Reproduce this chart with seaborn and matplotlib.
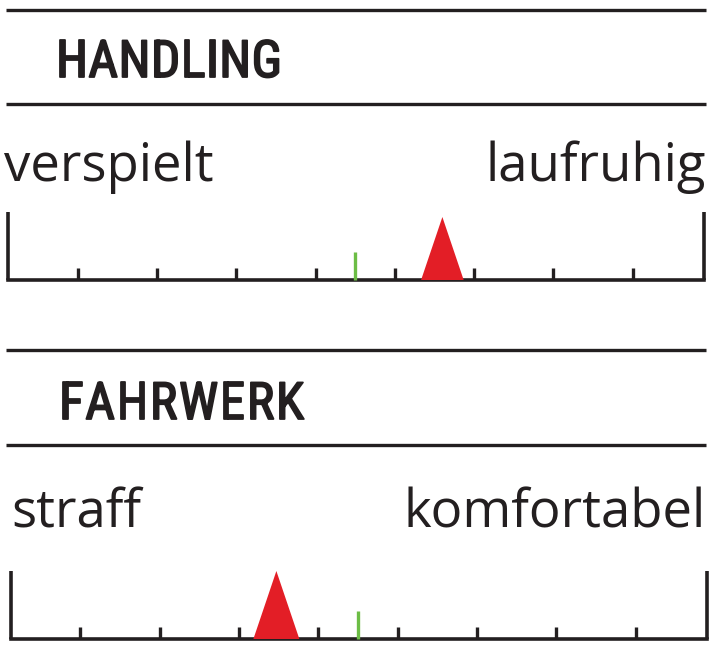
import matplotlib
matplotlib.use("Agg")
import matplotlib.pyplot as plt
from matplotlib import font_manager
import matplotlib.patheffects as pe
import seaborn as sns
import pandas as pd

# ---------------- data ----------------
categories = ["HANDLING", "FAHRWERK"]
left_labels = ["verspielt", "straff"]
right_labels = ["laufruhig", "komfortabel"]
values = [5.6, 3.47]          # red marker position (scale units)
reference = [4.5, 4.5]        # green middle mark
scale_ticks = [1, 2, 3, 4, 5, 6, 7, 8]
scale_ends = [0.12, 8.9]

# ---------------- style ----------------
sns.set_theme(style="white")
BLACK = "#231f20"
RED = "#e31e26"
GREEN = "#6cbd45"

names = {f.name for f in font_manager.fontManager.ttflist}
label_family = "Open Sans" if "Open Sans" in names else "DejaVu Sans"
head_fp = None
for cand in ["Roboto Condensed", "Liberation Sans Narrow", "Open Sans Condensed"]:
    if cand in names:
        head_fp = font_manager.FontProperties(family=cand, weight="normal")
        break
if head_fp is None:
    head_fp = font_manager.FontProperties(family="DejaVu Sans", weight="bold", stretch="condensed")

W, H = 712, 650
fig = plt.figure(figsize=(W / 100, H / 100), dpi=100)

bg = fig.add_axes([0, 0, 1, 1])
bg.set_xlim(0, W)
bg.set_ylim(H, 0)
bg.axis("off")

panel_top = [10, 350]
panel_mid = [104, 445]
label_base = [181, 527]
head_left = [56, 59]
head_right = [282, 304]
head_base = [77, 419]
left_x = [4, 11]
baseline_px = [280, 639]
x0_px = [77.6, 80.5]
tri_h = [63, 68]
unit_px = 79.3

fig.canvas.draw()
renderer = fig.canvas.get_renderer()
stroke = [pe.withStroke(linewidth=1.3, foreground=BLACK)]

for i in range(2):
    for yy in (panel_top[i], panel_mid[i]):
        bg.plot([6, 706], [yy, yy], color=BLACK, lw=2.4, solid_capstyle="butt")

    fs = 37
    chars = list(categories[i])
    texts = [bg.text(0, head_base[i], c, fontproperties=head_fp, fontsize=fs,
                     color=BLACK, va="baseline", ha="left", path_effects=stroke)
             for c in chars]
    widths = [t.get_window_extent(renderer).width for t in texts]
    total = sum(widths)
    target = head_right[i] - head_left[i]
    gap = max((target - total) / (len(chars) - 1), 0.0)
    x = head_left[i]
    for t, w in zip(texts, widths):
        t.set_x(x)
        x += w + gap

    bg.text(left_x[i], label_base[i], left_labels[i], family=label_family,
            fontsize=38, color=BLACK, va="baseline", ha="left")
    bg.text(706, label_base[i], right_labels[i], family=label_family,
            fontsize=38, color=BLACK, va="baseline", ha="right")

    top_px = baseline_px[i] - 80
    bot_px = baseline_px[i] + 8
    ax = fig.add_axes([0, 1 - bot_px / H, 1, (bot_px - top_px) / H])
    ax.set_xlim(1 - x0_px[i] / unit_px, 1 + (W - x0_px[i]) / unit_px)
    ax.set_ylim(-8, 80)
    ax.axis("off")
    ax.patch.set_alpha(0)

    ax.plot(scale_ends, [0, 0], color=BLACK, lw=2.6, solid_capstyle="projecting")
    ax.vlines(scale_ends, 0, 68, color=BLACK, lw=2.6)
    ax.vlines(scale_ticks, 0, 12, color=BLACK, lw=2.4)
    ax.vlines([reference[i]], 0, 28.5, color=GREEN, lw=2.4)

    df = pd.DataFrame({"pos": [values[i]], "y": [0.0]})
    hw = 0.338
    marker = [(-hw, 0), (0, 1), (hw, 0), (-hw, 0)]
    ms = 2 * tri_h[i] * 72 / 100
    sns.scatterplot(data=df, x="pos", y="y", ax=ax, marker=marker, s=ms ** 2,
                    color=RED, edgecolor="none", linewidth=0, legend=False, zorder=5)
    ax.set_xlabel("")
    ax.set_ylabel("")

fig.savefig("out.png", dpi=100)
